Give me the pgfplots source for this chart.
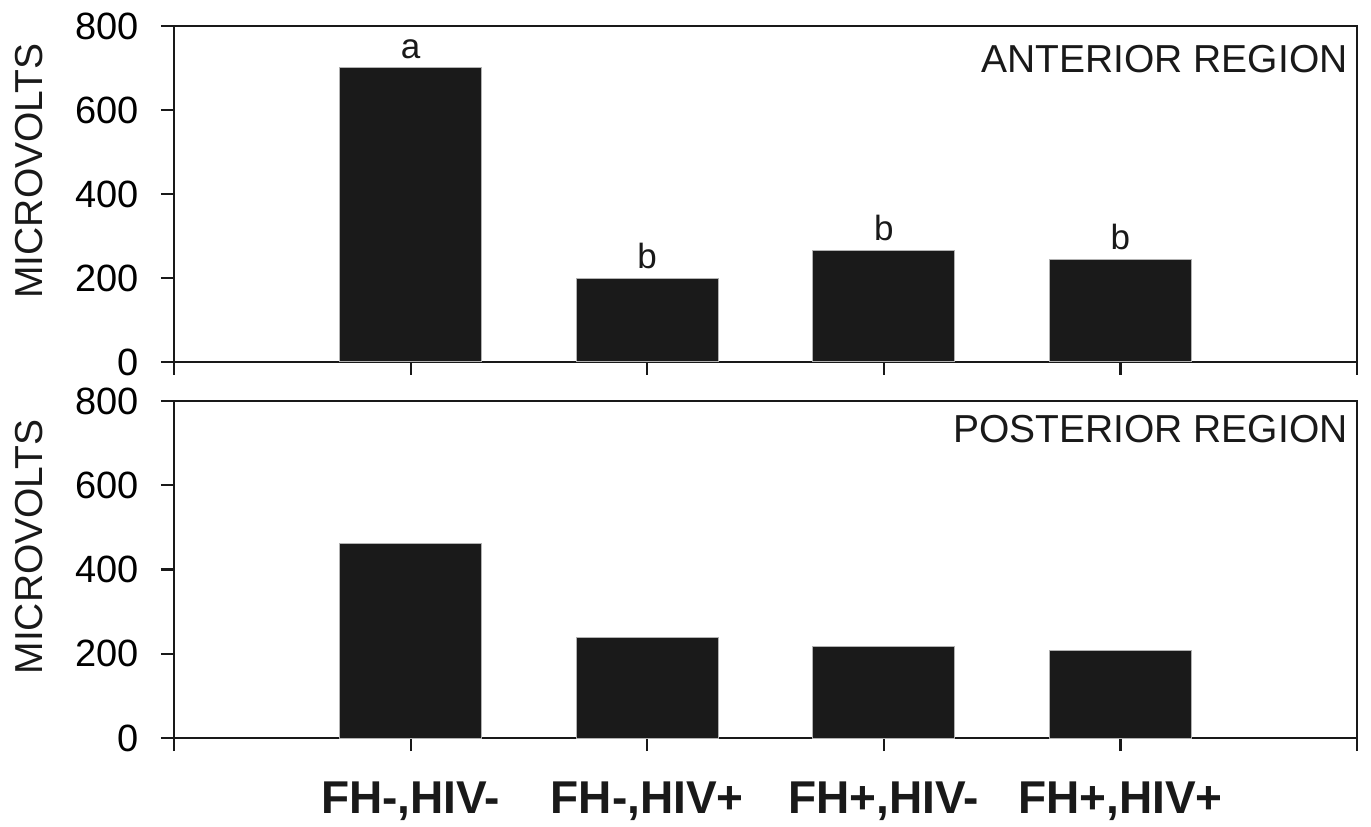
\documentclass[border=0pt]{standalone}
\usepackage{fontspec}
\setmainfont{Liberation Sans}
\usepackage{pgfplots}
\pgfplotsset{compat=1.18}
\usetikzlibrary{calc}
\definecolor{barfill}{HTML}{1A1A1A}
\pgfplotsset{
  myaxis/.style={
    scale only axis, width=591.5bp,
    xmin=0, xmax=5, ymin=0, ymax=800,
    xtick={0,1,2,3,4,5}, ytick={0,200,400,600,800},
    tick align=outside, xtick pos=left, ytick pos=left,
    major tick length=6.5bp,
    axis line style={line width=1.1bp, black!90},
    every tick/.style={line width=1.1bp, black!90},
    ybar, bar width=0.6,
    /pgf/number format/assume math mode=true,
    yticklabel style={font=\fontsize{19bp}{22bp}\selectfont, inner sep=0pt, xshift=-11bp},
    anchor=south west, clip=false,
  }
}
\begin{document}
\begin{tikzpicture}
\useasboundingbox (0,0) rectangle (685.5bp,413.5bp);
% top axis
\begin{axis}[myaxis, height=168bp, at={(87bp,232.5bp)}, xticklabels={}]
\addplot[fill=barfill, draw=gray!60, line width=0.5bp,
  nodes near coords, point meta=explicit symbolic,
  every node near coord/.append style={font=\fontsize{17.5bp}{20bp}\selectfont, inner sep=4.5bp, anchor=south, text=black!90}]
  coordinates {(1,700)[a] (2,198)[b] (3,265)[b] (4,245)[b]};
\node[anchor=north east, inner sep=0pt, text=black!90, font=\fontsize{19.5bp}{22bp}\selectfont] at ($(rel axis cs:1,1)+(-4.5bp,-9.5bp)$) {ANTERIOR REGION};
\node[rotate=90, inner sep=0pt, text=black!90, font=\fontsize{19.5bp}{22bp}\selectfont] at ($(rel axis cs:0,0.568)+(-72.5bp,0)$) {MICROVOLTS};
\end{axis}
% bottom axis
\begin{axis}[myaxis, height=168.5bp, at={(87bp,44.5bp)},
  xticklabels={{},{FH-,HIV-},{FH-,HIV+},{FH+,HIV-},{FH+,HIV+},{}},
  xticklabel style={font=\bfseries\fontsize{23bp}{26bp}\selectfont, inner sep=0pt, anchor=north, yshift=-15bp, text=black!90}]
\addplot[fill=barfill, draw=gray!60, line width=0.5bp]
  coordinates {(1,462) (2,239) (3,217) (4,207)};
\node[anchor=north east, inner sep=0pt, text=black!90, font=\fontsize{19.5bp}{22bp}\selectfont] at ($(rel axis cs:1,1)+(-4.5bp,-7bp)$) {POSTERIOR REGION};
\node[rotate=90, inner sep=0pt, text=black!90, font=\fontsize{19.5bp}{22bp}\selectfont] at ($(rel axis cs:0,0.567)+(-72.5bp,0)$) {MICROVOLTS};
\end{axis}
\end{tikzpicture}
\end{document}
